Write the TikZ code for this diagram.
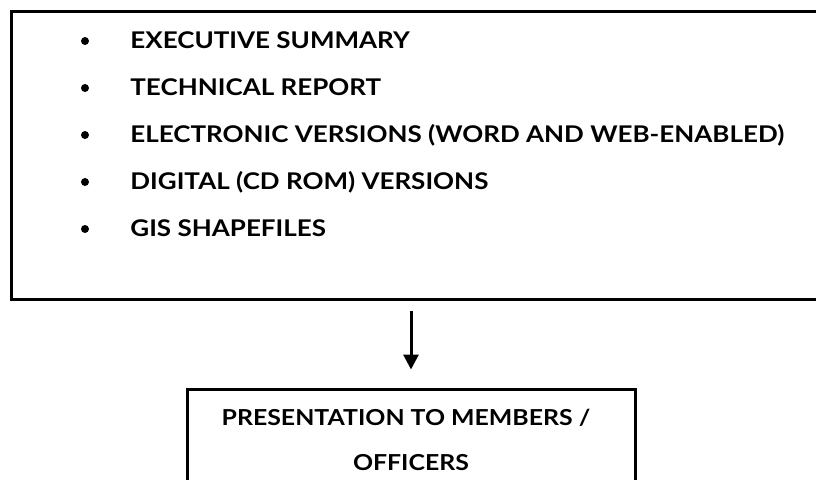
\documentclass[tikz,border=0pt]{standalone}
\usepackage{fontspec}
\setmainfont{Lato}[FakeStretch=1.13]
\usetikzlibrary{arrows.meta}

\tikzset{
  frame/.style={draw, line width=1.5pt, inner sep=0pt},
  itemtext/.style={anchor=base west, inner sep=0pt, font=\bfseries\fontsize{11.5}{13}\selectfont},
  boxtext/.style={anchor=base, inner sep=0pt, font=\bfseries\fontsize{11}{13}\selectfont},
  flow/.style={-{Triangle[width=7.5pt,length=7.5pt]}, line width=1.5pt},
}

\begin{document}
\begin{tikzpicture}[x=0.5pt,y=-0.5pt]
    \useasboundingbox (0,0) rectangle (816,479);

    % Deliverables box (runs past the right edge)
    \node[frame, minimum width=409.5pt, minimum height=144pt] (deliv) at (420.5,155) {};

    % Bulleted list
    \foreach \y/\txt [count=\i] in {48/EXECUTIVE SUMMARY, 95/TECHNICAL REPORT,
        142/ELECTRONIC VERSIONS (WORD AND WEB-ENABLED), 189/DIGITAL (CD ROM) VERSIONS,
        236/GIS SHAPEFILES} {
        \node[circle, fill, inner sep=0pt, minimum size=4pt] (dot\i) at (85,\y-7) {};
        \node[itemtext] (item\i) at (130,\y) {\txt};
    }

    % Presentation box (runs past the bottom edge)
    \node[frame, minimum width=224pt, minimum height=55.5pt] (present) at (411,444.5) {};
    \node[boxtext] (present1) at (406,425) {PRESENTATION TO MEMBERS /};
    \node[boxtext] (present2) at (411,470) {OFFICERS};

    % Arrow
    \draw[flow, shorten <=5pt, shorten >=9pt] (present.north |- deliv.south) -- (present.north);
\end{tikzpicture}
\end{document}
